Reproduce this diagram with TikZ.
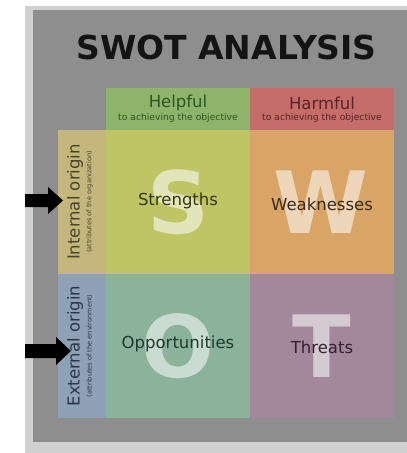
\documentclass[tikz,border=0pt]{standalone}
\usepackage{fontspec}
\setmainfont{DejaVu Sans}
\begin{document}
\begin{tikzpicture}[x=1pt,y=-1pt,
  cell/.style={rectangle, inner sep=0pt, outer sep=0pt, minimum width=144pt, minimum height=144pt},
  head/.style={rectangle, inner sep=0pt, outer sep=0pt, minimum width=144pt, minimum height=42pt},
  side/.style={rectangle, inner sep=0pt, outer sep=0pt, minimum width=48pt, minimum height=144pt},
  big/.style={font=\fontsize{86}{86}\selectfont\bfseries, text=white, text opacity=0.55, inner sep=0pt},
  lab/.style={font=\fontsize{16.5}{18}\selectfont, inner sep=0pt},
  sub/.style={font=\fontsize{9.2}{9.5}\selectfont, inner sep=0pt},
  sidesub/.style={font=\fontsize{6.6}{7}\selectfont, inner sep=0pt, rotate=90},
  arr/.style={fill=black, draw=none}]
\definecolor{panel}{HTML}{8E8E8E}
\definecolor{frame}{HTML}{D0D0D0}
\definecolor{cHelp}{HTML}{8DB46A}
\definecolor{cHarm}{HTML}{C46D6A}
\definecolor{cInt}{HTML}{C4B67C}
\definecolor{cExt}{HTML}{8FA1B6}
\definecolor{cS}{HTML}{BFC465}
\definecolor{cW}{HTML}{D8A566}
\definecolor{cO}{HTML}{8BB29B}
\definecolor{cT}{HTML}{A3889C}
\definecolor{tHelp}{HTML}{2C5520}
\definecolor{tHarm}{HTML}{5A2424}
\definecolor{tInt}{HTML}{4A4426}
\definecolor{tExt}{HTML}{2B3648}
\definecolor{tS}{HTML}{34380F}
\definecolor{tW}{HTML}{3A2A12}
\definecolor{tO}{HTML}{1F3A2C}
\definecolor{tT}{HTML}{361F33}
\useasboundingbox (0,0) rectangle (407,453);
\fill[white] (0,0) rectangle (407,453);
\fill[frame] (25,6) rectangle (407,453);
\fill[black!45] (33,440) rectangle (407,441.5);
\fill[panel] (33,10) rectangle (407,440);
\node[font=\fontsize{33}{33}\selectfont\bfseries, text=black!92, inner sep=0pt] (title) at (226.5,47) {SWOT ANALYSIS};
% headers
\node[head, fill=cHelp] (help) at (178,109) {};
\node[head, fill=cHarm] (harm) at (322,109) {};
\node[lab, text=tHelp] (helpT) at (178,103) {Helpful};
\node[sub, text=tHelp] (helpS) at (178,118) {to achieving the objective};
\node[lab, text=tHarm] (harmT) at (322,103) {Harmful};
\node[sub, text=tHarm] (harmS) at (322,118) {to achieving the objective};
% side
\node[side, fill=cInt] (int) at (82,202) {};
\node[side, fill=cExt] (ext) at (82,346) {};
\node[lab, rotate=90, text=tInt] (intT) at (75,202) {Internal origin};
\node[sidesub, text=tInt] (intS) at (89.5,202) {(attributes of the organization)};
\node[lab, rotate=90, text=tExt] (extT) at (75,346) {External origin};
\node[sidesub, text=tExt] (extS) at (89.5,346) {(attributes of the environment)};
% cells
\node[cell, fill=cS] (S) at (178,202) {};
\node[cell, fill=cW] (W) at (322,202) {};
\node[cell, fill=cO] (O) at (178,346) {};
\node[cell, fill=cT] (T) at (322,346) {};
\node[big] (bS) at (178,202) {S};
\node[big] (bW) at (321,202) {W};
\node[big] (bO) at (178,346) {O};
\node[big] (bT) at (322,346) {T};
\node[lab, text=tS] (sT) at (178,201) {Strengths};
\node[lab, text=tW] (wT) at (322,204) {Weaknesses};
\node[lab, text=tO] (oT) at (178,344) {Opportunities};
\node[lab, text=tT] (tT) at (322,347) {Threats};
% arrows
\fill[arr] (25,194) -- (48,194) -- (48,187) -- (63,200.5) -- (48,214) -- (48,207) -- (25,207) -- cycle;
\fill[arr] (25,344) -- (56,344) -- (56,337) -- (71,351) -- (56,365) -- (56,358) -- (25,358) -- cycle;
\end{tikzpicture}
\end{document}
